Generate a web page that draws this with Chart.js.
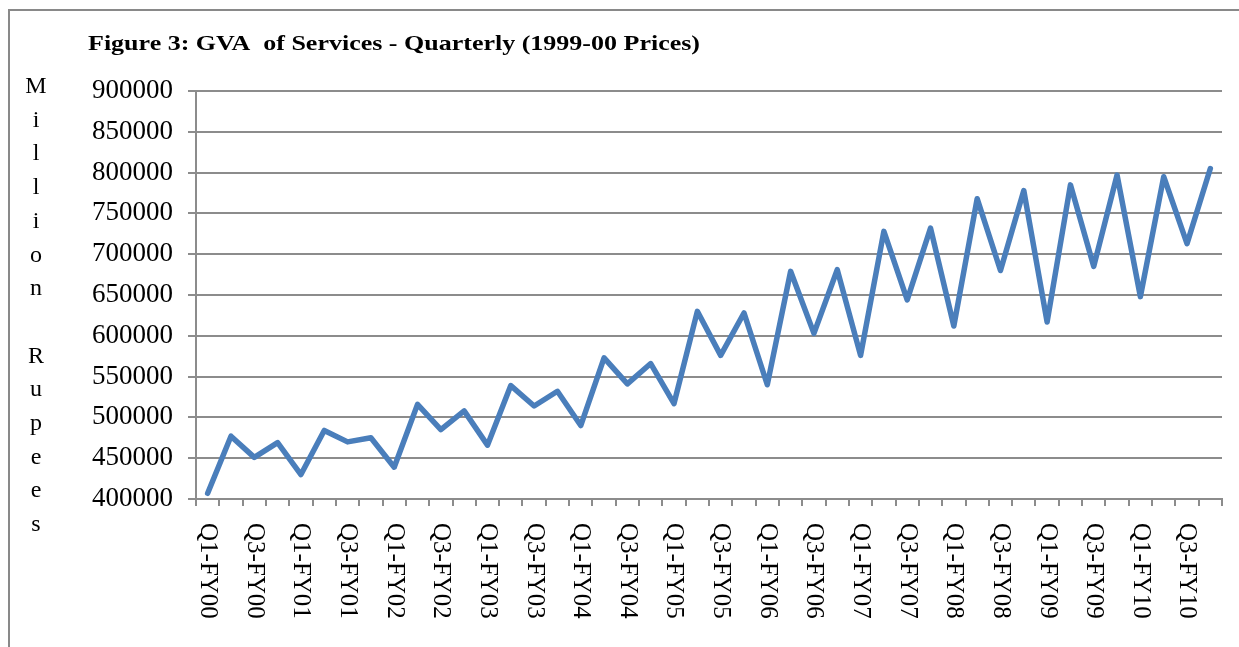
<!DOCTYPE html>
<html><head><meta charset="utf-8">
<script src="https://cdn.jsdelivr.net/npm/chart.js@4.4.0/dist/chart.umd.min.js"></script>
<style>html,body{margin:0;padding:0;background:#fff}#wrap{width:1239px;height:647px;position:relative}</style>
</head><body><div id="wrap"><canvas id="c" width="1239" height="647"></canvas></div>
<script>
const titleText = "Figure 3: GVA  of Services - Quarterly (1999-00 Prices)";
const yAxisTitle = "Million Rupees";
const categories = [
  "Q1-FY00","Q2-FY00","Q3-FY00","Q4-FY00",
  "Q1-FY01","Q2-FY01","Q3-FY01","Q4-FY01",
  "Q1-FY02","Q2-FY02","Q3-FY02","Q4-FY02",
  "Q1-FY03","Q2-FY03","Q3-FY03","Q4-FY03",
  "Q1-FY04","Q2-FY04","Q3-FY04","Q4-FY04",
  "Q1-FY05","Q2-FY05","Q3-FY05","Q4-FY05",
  "Q1-FY06","Q2-FY06","Q3-FY06","Q4-FY06",
  "Q1-FY07","Q2-FY07","Q3-FY07","Q4-FY07",
  "Q1-FY08","Q2-FY08","Q3-FY08","Q4-FY08",
  "Q1-FY09","Q2-FY09","Q3-FY09","Q4-FY09",
  "Q1-FY10","Q2-FY10","Q3-FY10","Q4-FY10"
];
const gvaServices = [
  407000, 477000, 451000, 469000,
  430000, 484000, 470000, 475000,
  439000, 516000, 485000, 508000,
  466000, 539000, 514000, 532000,
  490000, 573000, 541000, 566000,
  517000, 630000, 576000, 628000,
  540000, 679000, 603000, 681000,
  576000, 728000, 644000, 732000,
  612000, 768000, 680000, 778000,
  617000, 785000, 685000, 797000,
  648000, 795000, 713000, 805000
];
const yTickValues = [400000,450000,500000,550000,600000,650000,700000,750000,800000,850000,900000];

const serif = "'Liberation Serif','Times New Roman',serif";
const gridGray = '#8c8c8c';

const decor = {
  id: 'decor',
  beforeDraw(chart) {
    const ctx = chart.ctx;
    ctx.save();
    ctx.fillStyle = '#fff';
    ctx.fillRect(0, 0, chart.width, chart.height);
    ctx.strokeStyle = '#898989';
    ctx.lineWidth = 2;
    ctx.strokeRect(9, 10, 1400, 800);
    ctx.restore();
  },
  afterDraw(chart) {
    const ctx = chart.ctx;
    ctx.save();
    // title, stretched horizontally to span the same width as the original
    ctx.fillStyle = '#000';
    ctx.font = "bold 22px " + serif;
    ctx.textAlign = 'left';
    ctx.textBaseline = 'alphabetic';
    const w = ctx.measureText(titleText).width;
    const sx = 612 / w;
    ctx.save();
    ctx.translate(88, 50);
    ctx.scale(sx, 1);
    ctx.fillText(titleText, 0, 0);
    ctx.restore();
    // y-axis title stacked letters
    ctx.font = "24px " + serif;
    ctx.textAlign = 'center';
    const chars = yAxisTitle.split('');
    chars.forEach((ch, k) => {
      if (ch !== ' ') ctx.fillText(ch, 36, 93 + k * 33.7);
    });
    // x tick labels rotated clockwise
    const xs = chart.scales.x;
    ctx.font = "25px " + serif;
    ctx.textAlign = 'left';
    ctx.textBaseline = 'middle';
    categories.forEach((lab, i) => {
      if (i % 2 !== 0) return;
      const x = xs.getPixelForValue(i);
      ctx.save();
      ctx.translate(x, 523);
      ctx.rotate(Math.PI / 2);
      ctx.fillText(lab, 0, 0);
      ctx.restore();
    });
    ctx.restore();
  }
};

new Chart(document.getElementById('c'), {
  type: 'line',
  data: {
    labels: categories,
    datasets: [{
      data: gvaServices,
      borderColor: '#4a7ebb',
      borderWidth: 5.5,
      pointRadius: 0,
      tension: 0,
      borderCapStyle: 'round',
      borderJoinStyle: 'round',
      clip: false,
      fill: false
    }]
  },
  options: {
    responsive: false,
    animation: false,
    devicePixelRatio: 1,
    layout: { padding: { top: 91, right: 17, left: 0, bottom: 0 } },
    plugins: { legend: { display: false }, tooltip: { enabled: false }, title: { display: false } },
    scales: {
      x: {
        type: 'category',
        offset: true,
        grid: { offset: true, drawOnChartArea: false, drawTicks: true, tickLength: 7, color: gridGray, lineWidth: 2 },
        border: { display: true, color: gridGray, width: 2 },
        ticks: { display: false, autoSkip: false },
        afterFit(s) { s.height = 148; }
      },
      y: {
        min: 400000,
        max: 900000,
        afterBuildTicks(s) { s.ticks = yTickValues.map(v => ({ value: v })); },
        grid: { color: gridGray, lineWidth: 2, tickLength: 8, drawTicks: true },
        border: { display: true, color: gridGray, width: 2 },
        ticks: { color: '#000', font: { family: serif, size: 27 }, padding: 15, callback: v => String(v) },
        afterFit(s) { s.width = 196; }
      }
    }
  },
  plugins: [decor]
});
</script>
</body></html>
